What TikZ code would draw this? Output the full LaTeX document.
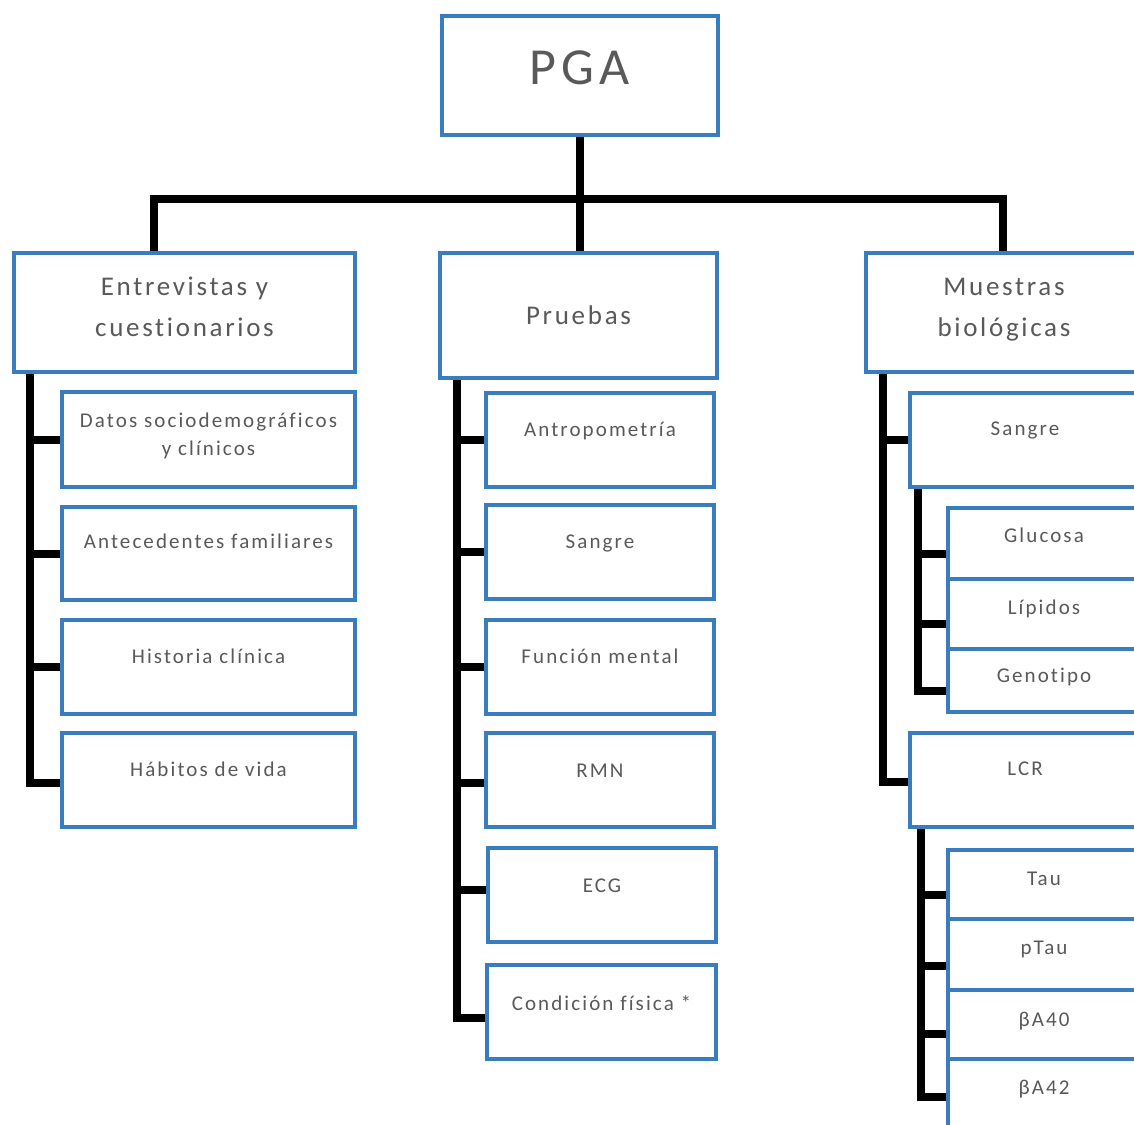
\documentclass[tikz,border=0pt]{standalone}
\usepackage{fontspec}
\setmainfont{Carlito}[LetterSpace=10,Ligatures={NoCommon},RawFeature={-liga;-dlig;-clig}]
\usetikzlibrary{calc}
\definecolor{boxblue}{RGB}{58,125,190}
\definecolor{txtgray}{RGB}{89,89,89}
\pgfdeclarelayer{bg}
\pgfsetlayers{bg,main}
\newcommand\twolines[2]{\begin{tabular}[t]{@{}c@{}}#1\\#2\end{tabular}}
\tikzset{
  box/.style={draw=boxblue, line width=4pt, fill=white, anchor=north west, inner sep=0pt, text=txtgray},
  conn/.style={line width=8pt, draw=black},
  bigtxt/.style={font=\fontsize{52}{60}\selectfont},
  headtxt/.style={font=\fontsize{27}{41}\selectfont},
  smalltxt/.style={font=\fontsize{21}{28}\selectfont},
}
% name, x, y, width, height, baseline offset, style, text
\newcommand\bx[8]{\node[box,#7,minimum width=#4pt,text height=#6pt,text depth=\the\numexpr#5-#6\relax pt] (#1) at (#2,#3) {#8};}
\begin{document}
\begin{tikzpicture}[x=1pt,y=-1pt]
\useasboundingbox (0,0) rectangle (1134,1124);
\clip (0,0) rectangle (1134,1124);
% top
\bx{PGA}{440}{14}{276}{119}{68}{bigtxt}{PGA}
\bx{E}{12}{251}{341}{119}{42}{headtxt}{\twolines{Entrevistas y}{cuestionarios}}
\bx{P}{438}{251}{277}{125}{71}{headtxt}{Pruebas}
\bx{M}{864}{251}{276}{119}{42}{headtxt}{\twolines{Muestras}{biológicas}}
% left
\bx{D1}{60}{390}{293}{95}{35}{smalltxt}{\twolines{Datos sociodemográficos}{y clínicos}}
\bx{D2}{60}{505}{293}{93}{41}{smalltxt}{Antecedentes familiares}
\bx{D3}{60}{618}{293}{94}{43}{smalltxt}{Historia clínica}
\bx{D4}{60}{731}{293}{94}{43}{smalltxt}{Hábitos de vida}
% middle
\bx{P1}{484}{391}{228}{94}{43}{smalltxt}{Antropometría}
\bx{P2}{484}{503}{228}{94}{43}{smalltxt}{Sangre}
\bx{P3}{484}{618}{228}{94}{43}{smalltxt}{Función mental}
\bx{P4}{484}{731}{228}{94}{44}{smalltxt}{RMN}
\bx{P5}{486}{846}{228}{94}{44}{smalltxt}{ECG}
\bx{P6}{485}{963}{229}{94}{45}{smalltxt}{Condición física *}
% right
\bx{M1}{908}{391}{230}{94}{42}{smalltxt}{Sangre}
\bx{S1}{946}{506}{192}{71}{34}{smalltxt}{Glucosa}
\bx{S2}{946}{577}{192}{70}{35}{smalltxt}{Lípidos}
\bx{S3}{946}{647}{192}{63}{33}{smalltxt}{Genotipo}
\bx{M2}{908}{731}{230}{94}{42}{smalltxt}{LCR}
\bx{T1}{946}{848}{192}{69}{35}{smalltxt}{Tau}
\bx{T2}{946}{917}{192}{71}{35}{smalltxt}{pTau}
\bx{T3}{946}{988}{192}{69}{36}{smalltxt}{βA40}
\bx{T4}{946}{1057}{192}{75}{35}{smalltxt}{βA42}
% connectors
\begin{pgfonlayer}{bg}
\coordinate (hub) at (579,199);
\coordinate (eT) at ([xshift=18pt]E.south west);
\coordinate (pT) at ([xshift=19pt]P.south west);
\coordinate (mT) at ([xshift=19pt]M.south west);
\coordinate (sT) at ([xshift=10pt]M1.south west);
\coordinate (lT) at ([xshift=13pt]M2.south west);
\draw[conn] (PGA.south) -- (PGA.south |- P.north);
\draw[conn] ([xshift=142pt]E.north west) |- (hub) -| ([xshift=139pt]M.north west);
% left column
\foreach \c in {D1,D2,D3} \draw[conn] (eT |- \c.west) -- (\c.west);
\draw[conn] (eT) |- ($(D4.west)+(0,-3pt)$);
% middle column
\foreach \c in {P1,P2,P3} \draw[conn] (pT |- \c.west) -- (\c.west);
\draw[conn] ($(pT |- P4.west)+(0,-3pt)$) -- ($(P4.west)+(0,-3pt)$);
\draw[conn] ($(pT |- P5.west)+(0,5pt)$) -- ($(P5.west)+(0,5pt)$);
\draw[conn] (pT) |- ($(P6.west)+(0,-6pt)$);
% right column
\draw[conn] (mT |- M1.west) -- (M1.west);
\draw[conn] (mT) |- ($(M2.west)+(0,-2pt)$);
\draw[conn] ($(sT |- S1.west)+(0,-10pt)$) -- ($(S1.west)+(0,-10pt)$);
\draw[conn] ($(sT |- S2.west)+(0,-10pt)$) -- ($(S2.west)+(0,-10pt)$);
\draw[conn] (sT) |- ($(S3.west)+(0,-10pt)$);
\draw[conn] ($(lT |- T1.west)+(0,-10pt)$) -- ($(T1.west)+(0,-10pt)$);
\draw[conn] ($(lT |- T2.west)+(0,-11pt)$) -- ($(T2.west)+(0,-11pt)$);
\draw[conn] ($(lT |- T3.west)+(0,-9pt)$) -- ($(T3.west)+(0,-9pt)$);
\draw[conn] (lT) |- (T4.west);
\end{pgfonlayer}
\end{tikzpicture}
\end{document}
